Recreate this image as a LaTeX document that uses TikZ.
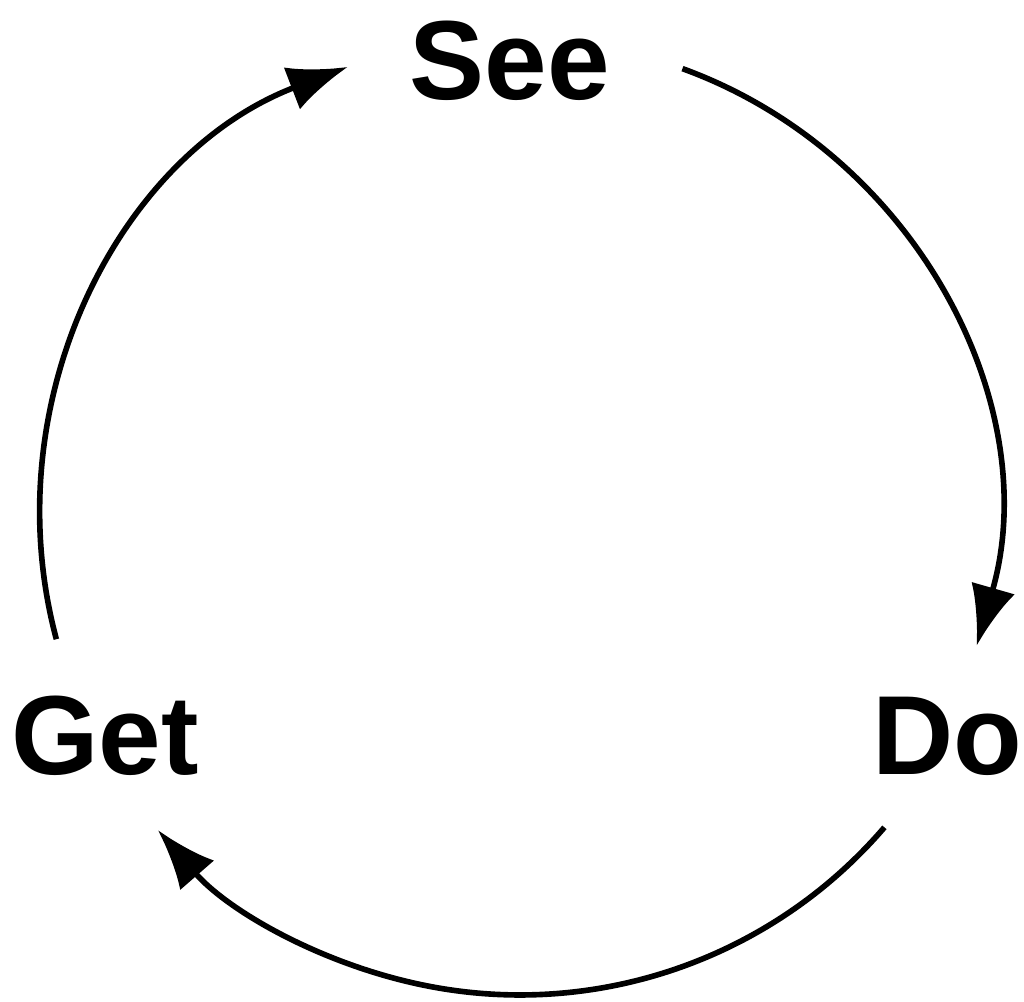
\documentclass[tikz,border=0pt]{standalone}
\usepackage{fontspec}
\setmainfont{Liberation Sans}
\usetikzlibrary{arrows.meta}
\usetikzlibrary{calc}
\usetikzlibrary{positioning}

\begin{document}
\begin{tikzpicture}[
    word/.style={inner sep=0pt, anchor=base, font=\fontsize{32}{36}\selectfont\bfseries},
    cyc/.style={draw, line width=1.6pt, -{Latex[length=6mm, width=4.5mm]}}
  ]
    \useasboundingbox (0,0) rectangle (10.24,10.02);
    \coordinate (mid) at (5.20,4.87);
    % words
    \node[word] (see) at (5.10,10.02-1.00) {See};
    \node[word] (do) at (9.47,10.02-7.75) {Do};
    \node[word] (get) at (1.05,10.02-7.75) {Get};
    % arc ends
    \coordinate (see out) at ($(mid)+(70:4.75)$);
    \coordinate (do out) at ($(mid)+(-40.6:4.8)$);
    \coordinate (get out) at ($(mid)+(195:4.8)$);
    \draw[cyc] (see out) arc[start angle=70, end angle=-16, radius=4.75];
    \draw[cyc] (do out) arc[start angle=-40.6, end angle=-139, radius=4.8];
    \draw[cyc] (get out) arc[start angle=195, end angle=111, radius=4.8];
  \end{tikzpicture}
\end{document}
